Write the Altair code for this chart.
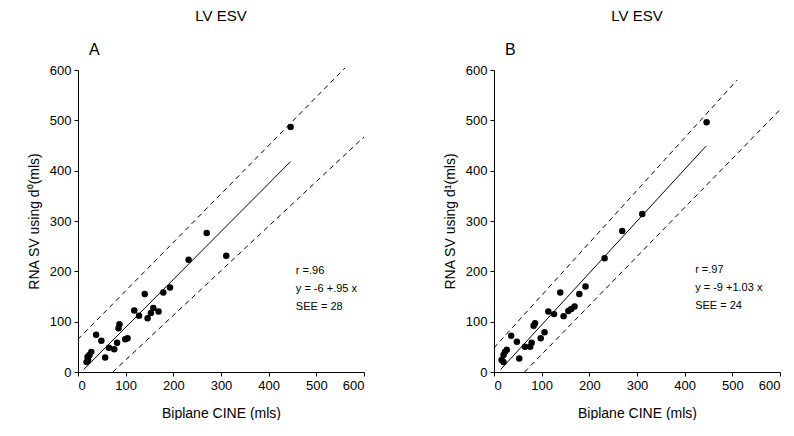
import altair as alt
import pandas as pd

# ---- data ----
a_x = [446, 311, 270, 232, 193, 179, 140, 158, 169, 153, 146, 118, 128, 87, 85,
       104, 99, 82, 76, 65, 38, 49, 57, 28, 24, 21, 18, 20]
a_y = [487, 231, 276, 223, 168, 158, 155, 127, 120, 117, 107, 122, 112, 95, 87,
       67, 65, 58, 45, 48, 74, 62, 29, 40, 34, 24, 20, 30]

b_x = [446, 311, 269, 232, 192, 179, 139, 169, 162, 156, 146, 126, 114, 86, 83,
       106, 98, 79, 76, 65, 36, 48, 53, 27, 23, 20, 16, 20]
b_y = [496, 314, 280, 226, 170, 155, 158, 130, 125, 121, 111, 115, 120, 97, 92,
       79, 67, 58, 50, 50, 72, 60, 27, 44, 40, 34, 24, 20]

# regression and +/- bands (end points)
a_reg_x, a_reg_y = [12, 446], [5, 418]
a_up_x, a_up_y = [0, 560], [65, 604]
a_lo_x, a_lo_y = [73, 600], [0, 467]

b_reg_x, b_reg_y = [14, 445], [5, 449]
b_up_x, b_up_y = [0, 510], [48, 580]
b_lo_x, b_lo_y = [64, 603], [0, 524]

a_stats = ["r =.96", "y = -6 +.95 x", "SEE = 28"]
b_stats = ["r =.97", "y = -9 +1.03 x", "SEE = 24"]
a_stats_x, a_stats_y = 457, [201, 165, 129]
b_stats_x, b_stats_y = 422, [203, 167, 131]

ticks = [0, 100, 200, 300, 400, 500, 600]
FONT = "Liberation Sans"


def panel(px, py, rx, ry, ux, uy, lx, ly, stats, sx, sy, letter, ytitle):
    xs = alt.Scale(domain=[0, 600], nice=False)
    ys = alt.Scale(domain=[0, 600], nice=False)
    xax = alt.Axis(values=ticks, title="Biplane CINE (mls)", titlePadding=14,
                   labelPadding=3)
    yax = alt.Axis(values=ticks, title=ytitle, titlePadding=8, labelPadding=3)

    pts = alt.Chart(pd.DataFrame({"x": px, "y": py})).mark_circle(
        size=42, color="black", opacity=1
    ).encode(x=alt.X("x:Q", scale=xs, axis=xax), y=alt.Y("y:Q", scale=ys, axis=yax))

    def line(xv, yv, dash=None):
        kw = dict(color="black", strokeWidth=1)
        if dash:
            kw["strokeDash"] = dash
        return alt.Chart(pd.DataFrame({"x": xv, "y": yv})).mark_line(**kw).encode(
            x=alt.X("x:Q", scale=xs), y=alt.Y("y:Q", scale=ys))

    reg = line(rx, ry)
    up = line(ux, uy, [5, 4])
    lo = line(lx, ly, [5, 4])

    txt = alt.Chart(pd.DataFrame({"x": [sx] * 3, "y": sy, "t": stats})).mark_text(
        align="left", baseline="middle", fontSize=11, font=FONT, color="black"
    ).encode(x=alt.X("x:Q", scale=xs), y=alt.Y("y:Q", scale=ys), text="t:N")

    lab = alt.Chart(pd.DataFrame({"x": [34], "y": [640], "t": [letter]})).mark_text(
        align="center", baseline="middle", fontSize=16, font=FONT, color="black"
    ).encode(x=alt.X("x:Q", scale=xs), y=alt.Y("y:Q", scale=ys), text="t:N")

    return alt.layer(up, lo, reg, pts, txt, lab).properties(
        width=286, height=302,
        title=alt.TitleParams("LV ESV", fontSize=15, font=FONT, fontWeight="normal",
                              offset=18, anchor="middle", color="black"),
    )


pa = panel(a_x, a_y, a_reg_x, a_reg_y, a_up_x, a_up_y, a_lo_x, a_lo_y,
           a_stats, a_stats_x, a_stats_y, "A", "RNA SV using d⁰(mls)")
pb = panel(b_x, b_y, b_reg_x, b_reg_y, b_up_x, b_up_y, b_lo_x, b_lo_y,
           b_stats, b_stats_x, b_stats_y, "B", "RNA SV using d¹(mls)")

chart = alt.hconcat(pa, pb, spacing=77).properties(
    padding={"left": 19, "top": 0, "right": 0, "bottom": 0}
).configure_view(stroke=None).configure_axis(
    grid=False, domainColor="black", tickColor="black", labelColor="black",
    titleColor="black", labelFont=FONT, titleFont=FONT, labelFontSize=13,
    titleFontSize=14, titleFontWeight="normal", tickSize=4, domainWidth=1,
)

chart.save("out.html", embed_options={"renderer": "svg", "actions": False})
